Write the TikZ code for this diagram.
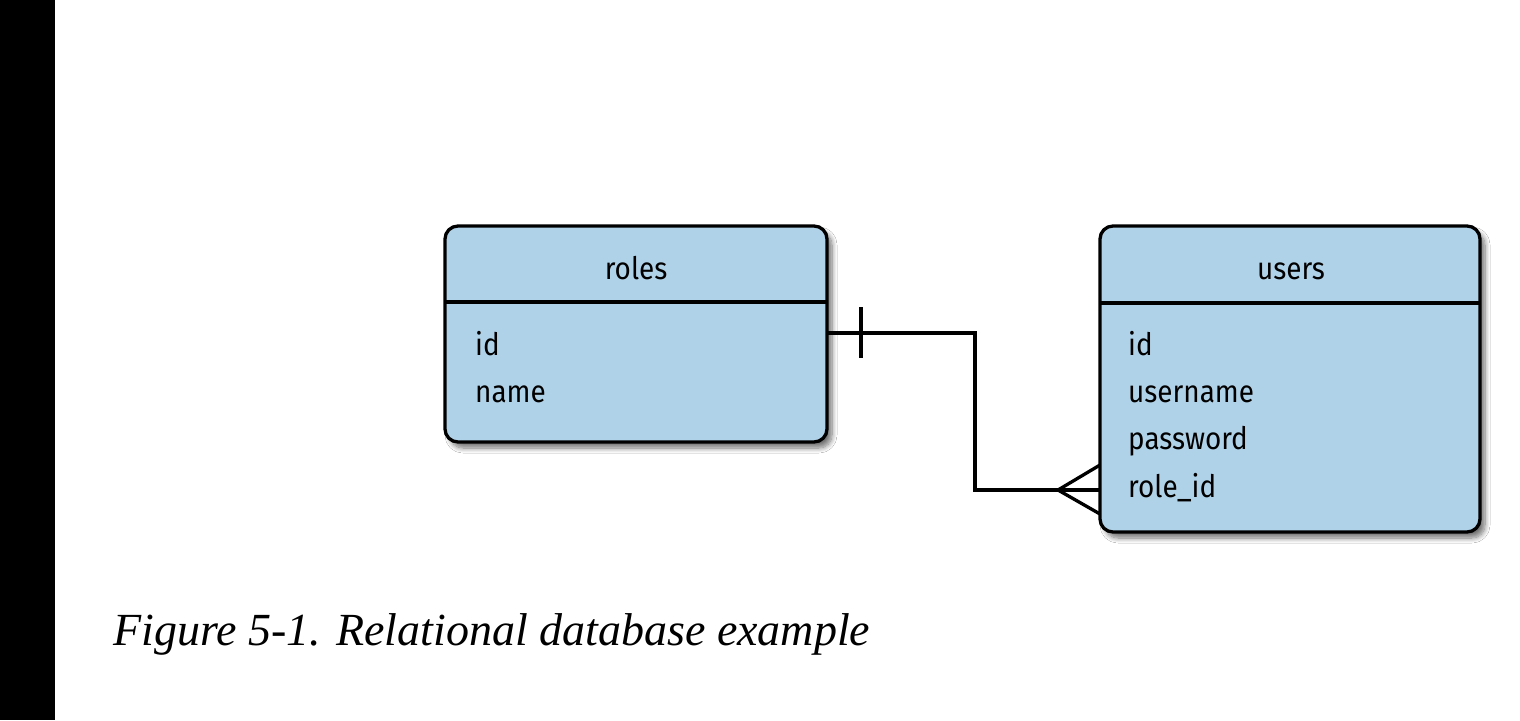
\documentclass[tikz,border=0pt]{standalone}
\usepackage{fontspec}
\setmainfont{Liberation Serif}
\newfontfamily\tabfont[FakeStretch=0.9]{Fira Sans}
\usetikzlibrary{shadows.blur}
\definecolor{tblue}{RGB}{176,210,232}
\tikzset{
  tablebox/.style={draw=black, line width=3.3pt, fill=tblue, rounded corners=13pt,
    blur shadow={shadow xshift=5pt, shadow yshift=-6pt, shadow blur steps=8, shadow blur radius=5pt, shadow opacity=55}},
  divider/.style={line width=3.3pt},
  conn/.style={line width=3.3pt},
  ttl/.style={font=\tabfont\fontsize{31}{34}\selectfont, anchor=base},
  fld/.style={font=\tabfont\fontsize{31}{34}\selectfont, anchor=base west, inner sep=0pt},
  captext/.style={font=\itshape\fontsize{46}{52}\selectfont, anchor=base west, inner sep=0pt}
}
\begin{document}
\begin{tikzpicture}[x=1pt,y=-1pt]
\useasboundingbox[fill=white] (0,0) rectangle (1520,720);
\fill[black] (0,0) rectangle (55,720);
% roles table
\draw[tablebox] (445,226) rectangle (827,442);
\draw[divider] (445,302) -- (827,302);
\node[ttl] (rolesT) at (636,279) {roles};
\node[fld] (rid) at (475,355) {id};
\node[fld] (rname) at (475,402) {name};
% users table
\draw[tablebox] (1100,226) rectangle (1480,532);
\draw[divider] (1100,303) -- (1480,303);
\node[ttl] (usersT) at (1291,279) {users};
\node[fld] (uid) at (1128,355) {id};
\node[fld] (uname) at (1128,402) {username};
\node[fld] (upass) at (1128,449) {password};
\node[fld] (urole) at (1128,497) {role\_id};
% connector
\coordinate (a) at (827,333);
\coordinate (b) at (1100,490);
\coordinate (crow) at (1058,490);
\draw[conn] (a) -- (975,333) -- (975,490) -- (b);
\draw[conn] (861,307) -- (861,358);
\draw[conn] (1100,465) -- (crow) -- (1100,514);
% caption
\node[captext] (caption) at (113,645) {Figure 5-1. Relational database example};
\end{tikzpicture}
\end{document}
